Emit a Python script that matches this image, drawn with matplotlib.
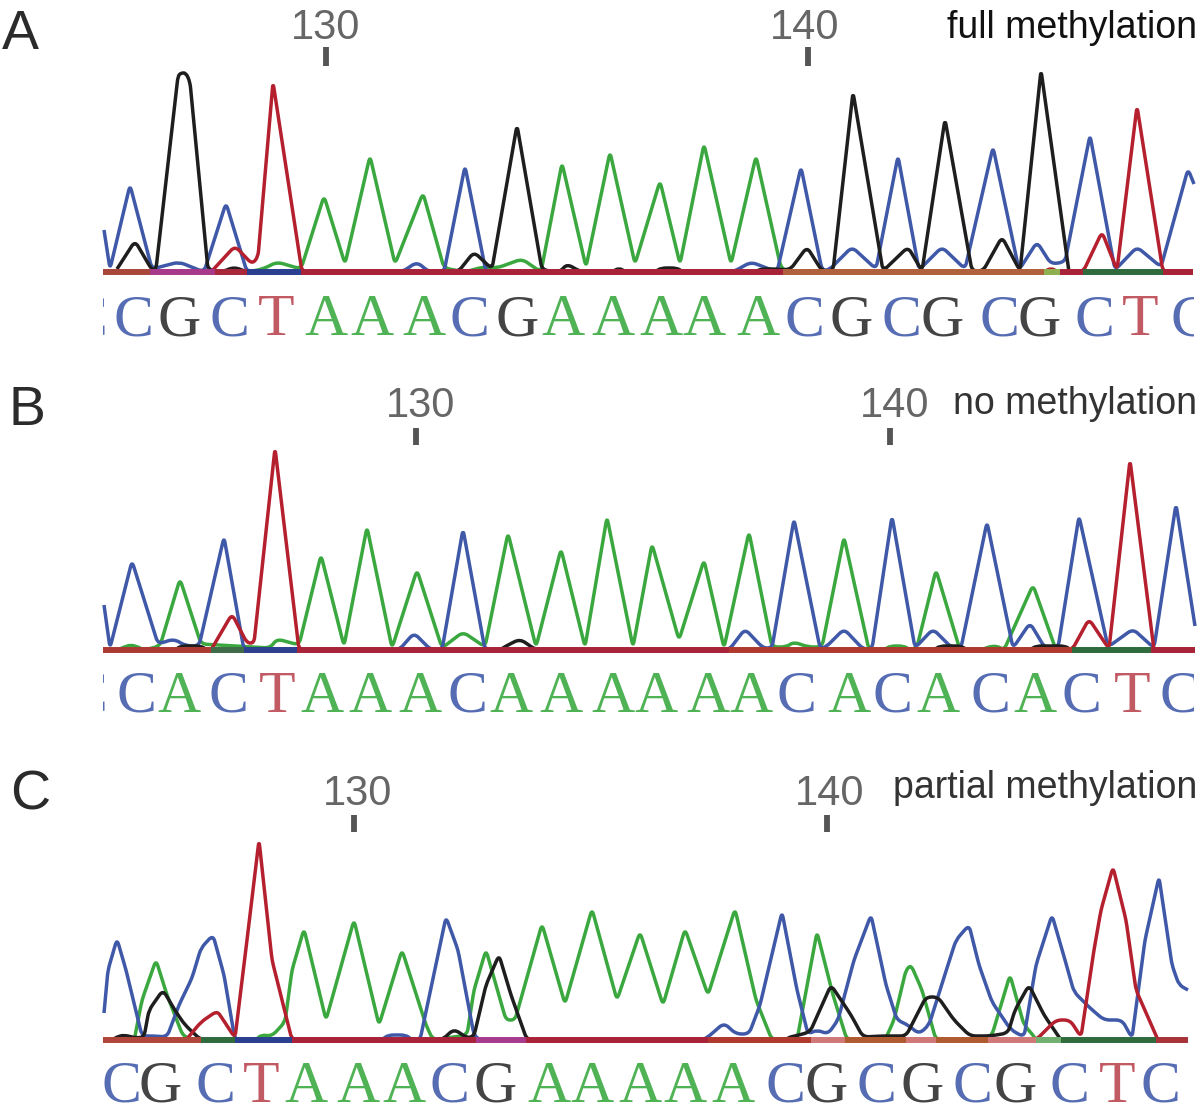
#!/usr/bin/python3
import math
import matplotlib
matplotlib.use("Agg")
import matplotlib.pyplot as plt
from matplotlib.patches import Rectangle, PathPatch
from matplotlib.path import Path

# traces: (scan position, signal height)
a_green = [(222,0),(235,3),(247,0),(263,3),(277,10),(301,3),(324,76),(345,8),(370,116),(395,8),(423,79),(444,4),(465,0),
           (483,5),(497,4),(522,13),(541,0),(562,109),(586,5),(610,120),(635,8),(660,91),(680,8),(704,128),(731,8),
           (756,116),(781,4),(790,0)]
a_blue = [(104,42),(110,3),(130,87),(152,3),(179,10),(204,0),(226,69),(247,0),(402,0),(417,10),(429,0),(444,0),(465,106),
          (486,0),(733,0),(751,10),(777,0),(801,105),(822,2),(829,2),(852,25),(876,3),(898,116),(919,2),(942,25),(965,3),
          (993,125),(1019,2),(1037,30),(1051,8),(1065,10),(1090,137),(1115,2),(1137,25),(1161,5),(1188,103),(1194,88)]
a_black = [(117,3),(135,31),(152,2),(156,3),(178,196),(181,199),(186,199),(190,190),(208,2),(222,0),(234,5),(247,0),(458,0),
           (474,20),(492,3),(517,147),(542,2),(560,0),(567,8),(581,0),(612,0),(619,4),(626,0),(655,0),(661,4),(677,4),(683,0),
           (755,0),(761,3),(776,3),(790,2),(807,25),(822,1),(833,1),(853,180),(883,1),(908,25),(922,1),(945,153),(972,1),
           (983,1),(1002,35),(1020,1),(1041,202),(1069,0)]
a_red = [(211,0),(235,26),(252,8),(258,15),(273,190),(302,0),(1044,0),(1051,4),(1058,0),(1083,0),(1102,40),(1117,2),
         (1137,166),(1163,0),(1193,0)]

b_green = [(118,0),(124,3),(131,5),(138,3),(144,0),(160,4),(180,71),(201,6),(270,2),(277,11),(299,5),(321,95),(344,4),
           (367,123),(392,2),(417,80),(442,2),(463,18),(485,3),(508,117),(536,3),(561,101),(585,3),(607,133),(633,3),
           (652,106),(679,10),(704,90),(724,2),(749,118),(772,3),(786,3),(794,8),(808,3),(822,3),(844,113),(869,0),
           (884,0),(890,4),(904,4),(910,0),(917,3),(936,80),(960,0),(982,0),(988,3),(997,4),(1004,0),(1033,65),(1056,0)]
b_blue = [(104,45),(110,2),(132,89),(158,6),(174,11),(186,4),(199,4),(224,113),(244,0),(399,0),(414,17),(431,0),(442,0),
          (463,121),(485,0),(729,0),(745,21),(763,2),(772,2),(794,131),(820,2),(826,3),(844,21),(863,1),(872,1),(892,134),
          (915,2),(933,21),(952,2),(961,2),(987,128),(1013,2),(1030,27),(1045,2),(1058,2),(1079,134),(1108,3),(1133,21),
          (1154,2),(1176,146),(1195,24)]
b_black = [(175,0),(181,4),(201,4),(207,0),(500,0),(506,4),(520,11),(536,0),(934,0),(940,4),(961,4),(967,0),(1030,0),
           (1036,4),(1065,4),(1071,0)]
b_red = [(211,0),(232,36),(247,7),(254,7),(275,202),(299,0),(1072,0),(1089,31),(1109,1),(1130,190),(1154,0)]

c_green = [(135,4),(142,40),(156,80),(167,45),(183,4),(194,0),(256,0),(261,5),(272,4),(285,18),(292,70),(304,111),(326,20),
           (354,120),(379,15),(402,90),(426,15),(433,0),(467,5),(474,50),(486,90),(506,20),(515,20),(542,116),(565,36),
           (592,131),(617,40),(640,108),(663,35),(685,111),(708,45),(735,131),(756,40),(772,0),(797,0),(817,108),(833,45),
           (847,0),(885,0),(894,20),(906,70),(911,75),(922,50),(936,0),(985,0),(992,5),(1010,65),(1024,15),(1033,5),(1036,0)]
c_blue = [(104,27),(108,70),(117,101),(126,70),(142,4),(154,4),(167,3),(179,35),(192,62),(201,92),(213,105),(224,65),(235,0),
          (382,0),(388,5),(406,5),(412,0),(420,0),(446,123),(458,90),(474,5),(480,0),(702,0),(708,3),(724,17),(736,6),(749,6),
          (760,35),(782,128),(797,50),(808,6),(817,10),(828,6),(838,20),(854,80),(871,125),(886,55),(897,20),(908,15),(919,6),
          (929,15),(947,72),(956,100),(969,115),(979,75),(992,38),(1011,10),(1024,3),(1036,75),(1052,125),(1065,80),(1074,48),
          (1090,32),(1104,20),(1122,20),(1132,2),(1145,100),(1159,163),(1172,75),(1179,55),(1188,50)]
c_black = [(112,0),(117,3),(124,5),(136,2),(144,3),(149,30),(163,50),(176,28),(185,15),(201,0),(442,0),(454,11),(467,2),(474,4),
           (486,55),(499,85),(511,45),(527,0),(785,0),(790,3),(795,4),(810,8),(831,55),(851,25),(863,3),(883,4),(894,4),(906,4),
           (926,43),(938,43),(954,20),(970,4),(990,4),(1008,7),(1015,30),(1029,55),(1044,25),(1061,0)]
c_red = [(186,0),(201,18),(217,29),(222,22),(235,2),(247,100),(259,200),(272,80),(292,0),(1036,0),(1056,20),(1070,20),
         (1081,3),(1094,90),(1101,130),(1113,173),(1126,120),(1136,50),(1158,0)]

# called bases and their positions
a_bases = "CCGCTAAACGAAAAACGCGCGCTC"
a_base_x = [87,133,179,229,276,326,372,424,469,517,563,613,661,704,758,804,851,901,942,999,1039,1094,1140,1190]
b_bases = "CCACTAAACAAAAAACACACACTC"
b_base_x = [87,136,179,228,277,322,370,420,467,511,561,613,656,708,751,796,849,892,938,990,1035,1081,1132,1179]
c_bases = "CGCTAAACGAAAAACGCGCGCTC"
c_base_x = [121,160,215,261,306,358,404,449,495,549,592,640,685,733,785,826,876,922,972,1015,1069,1117,1160]

# baseline bands: start, end, colour
a_bands = [(103,150,"#a8473a"),(150,215,"#a8388a"),(215,247,"#a8283a"),(247,301,"#2a3f8f"),(301,783,"#a8233a"),
           (783,1044,"#b0603a"),(1044,1060,"#8fb050"),(1060,1083,"#a8233a"),(1083,1163,"#2f6b3c"),(1163,1193,"#a8233a")]
b_bands = [(103,211,"#ad3a32"),(211,244,"#3f6b48"),(244,297,"#2d3f8f"),(297,729,"#a8233a"),(729,1072,"#b0392e"),
           (1072,1151,"#2f6b3c"),(1151,1195,"#a8233a")]
c_bands = [(103,201,"#b0453a"),(201,235,"#2f6b3c"),(235,292,"#2a3f8f"),(292,476,"#a8233a"),(476,526,"#a83a8f"),
           (526,708,"#a8233a"),(708,811,"#b0392e"),(811,845,"#d07878"),(845,906,"#b05a30"),(906,936,"#d07878"),
           (936,988,"#b05a30"),(988,1036,"#d07878"),(1036,1061,"#70b070"),(1061,1156,"#2f6b3c"),(1156,1188,"#a8333a")]

panels = [
    dict(name="A", name_x=20, name_y=49, base_y=272, text_y=335, title="full methylation", title_y=38, title_c="#111111",
         green=a_green, blue=a_blue, black=a_black, red=a_red, bases=a_bases, base_x=a_base_x, bands=a_bands,
         num_x=[326, 805], tick_x=[326, 808], num_y=39, tick_y=(47, 66)),
    dict(name="B", name_x=27, name_y=425, base_y=650, text_y=712, title="no methylation", title_y=414, title_c="#333333",
         green=b_green, blue=b_blue, black=b_black, red=b_red, bases=b_bases, base_x=b_base_x, bands=b_bands,
         num_x=[421, 895], tick_x=[416, 890], num_y=417, tick_y=(428, 445)),
    dict(name="C", name_x=30, name_y=810, base_y=1040, text_y=1102, title="partial methylation", title_y=798, title_c="#333333",
         green=c_green, blue=c_blue, black=c_black, red=c_red, bases=c_bases, base_x=c_base_x, bands=c_bands,
         num_x=[358, 830], tick_x=[354, 827], num_y=805, tick_y=(815, 832)),
]

colors = {"green": "#3aa83f", "blue": "#3f58a8", "black": "#1e1e1e", "red": "#b5202f"}
base_colors = {"A": "#4fb254", "C": "#566db4", "G": "#444444", "T": "#c25a64"}
tick_labels = ["130", "140"]

plt.rcParams["font.family"] = ["Liberation Sans", "DejaVu Sans"]


def rounded_path(pts, r=6):
    # keep the read points, only soften the corners between them
    verts = [pts[0]]
    codes = [Path.MOVETO]
    for i in range(1, len(pts) - 1):
        px, py = pts[i]
        ax_, ay_ = pts[i - 1]
        bx, by = pts[i + 1]
        d1 = math.hypot(ax_ - px, ay_ - py)
        d2 = math.hypot(bx - px, by - py)
        r1 = min(r, d1 * 0.45)
        r2 = min(r, d2 * 0.45)
        verts.append((px + (ax_ - px) * r1 / d1, py + (ay_ - py) * r1 / d1))
        codes.append(Path.LINETO)
        verts.append((px, py))
        codes.append(Path.CURVE3)
        verts.append((px + (bx - px) * r2 / d2, py + (by - py) * r2 / d2))
        codes.append(Path.CURVE3)
    verts.append(pts[-1])
    codes.append(Path.LINETO)
    return Path(verts, codes)


fig = plt.figure(figsize=(12, 11.11), dpi=100)
ax = fig.add_axes([0, 0, 1, 1])
ax.set_xlim(0, 1200)
ax.set_ylim(1111, 0)
ax.axis("off")

clip = Rectangle((103, 0), 1091, 1111, transform=ax.transData)

for p in panels:
    for key in ["green", "blue", "black", "red"]:
        pts = [(v[0], p["base_y"] - v[1]) for v in p[key]]
        ax.add_patch(PathPatch(rounded_path(pts), fill=False, ec=colors[key], lw=2.5,
                               joinstyle="round", capstyle="butt", zorder=2))

    for start, end, c in p["bands"]:
        ax.plot([start, end], [p["base_y"]] * 2, color=c, lw=4.3, solid_capstyle="butt", zorder=3)

    for b, x in zip(p["bases"], p["base_x"]):
        # only the letters at the two ends run past the trace window
        cut = x < 103 + 20 and p["name"] != "C" or x > 1194 - 20
        t = ax.text(x, p["text_y"], b, color=base_colors[b], fontsize=43, family="Liberation Serif",
                    ha="center", va="baseline", clip_on=cut)
        if cut:
            t.set_clip_path(clip)

    for label, nx, tx in zip(tick_labels, p["num_x"], p["tick_x"]):
        ax.text(nx, p["num_y"], label, color="#666666", fontsize=30, ha="center", va="baseline")
        ax.plot([tx, tx], p["tick_y"], color="#555555", lw=4.2, solid_capstyle="butt")

    ax.text(p["name_x"], p["name_y"], p["name"], color="#2b2b2b", fontsize=40, ha="center", va="baseline")
    ax.text(1197, p["title_y"], p["title"], color=p["title_c"], fontsize=27, ha="right", va="baseline")

fig.savefig("out.png", dpi=100)
